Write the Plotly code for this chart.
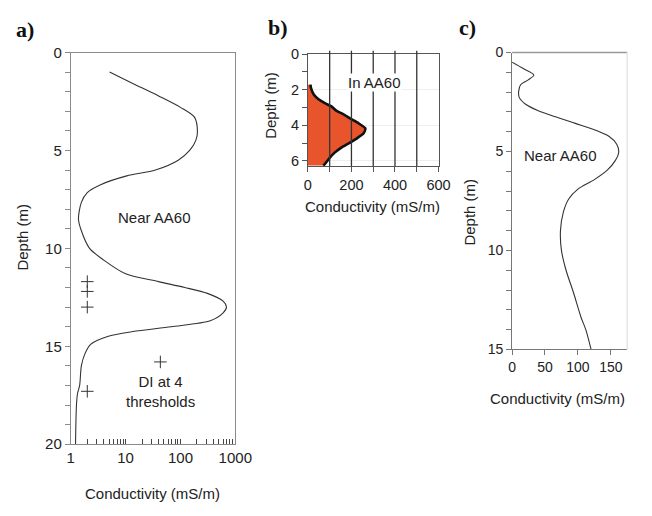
import plotly.graph_objects as go

# ---------------- data ----------------
# Panel a: conductivity profile near AA60 (log scale)
depth_a = [1.0, 1.58, 2.22, 2.8, 3.3, 4.05, 4.5, 5.0, 5.5, 6.0, 6.3, 6.75, 7.15, 7.65,
           8.5, 9.1, 10.0, 10.6, 11.3, 11.7, 12.0, 12.3, 12.7, 13.0, 13.3, 13.7, 14.0,
           14.25, 14.5, 14.9, 15.4, 16.0, 17.0, 17.4, 18.0, 20.0]
cond_a = [5.1, 13.5, 40, 100, 180, 204, 190, 147, 91, 35, 10.5, 3.5, 2.0, 1.56,
          1.38, 1.56, 2.2, 4.0, 10, 40, 120, 310, 600, 690, 600, 350, 68,
          13.5, 4.7, 2.3, 1.8, 1.56, 1.45, 1.33, 1.27, 1.22]
# DI at 4 thresholds (crosses)
di_depth = [11.7, 12.2, 13.0, 15.8, 17.3]
di_cond = [2.0, 2.0, 2.0, 43, 2.0]

# Panel b: conductivity in AA60
depth_b = [1.72, 1.9, 2.27, 2.54, 2.76, 2.94, 3.18, 3.36, 3.64, 3.9, 4.18, 4.45,
           4.72, 5.0, 5.27, 5.54, 5.82, 6.18, 6.27]
cond_b = [12, 14, 27, 49, 78, 108, 130, 160, 197, 234, 264, 256,
          227, 190, 152, 123, 101, 78, 71]

# Panel c: conductivity near AA60 (linear scale)
depth_c = [0.49, 0.81, 1.14, 1.38, 1.63, 1.95, 2.28, 2.6, 2.93, 3.25, 3.58, 3.9,
           4.23, 4.63, 5.04, 5.45, 5.93, 6.42, 6.9, 7.4, 8.05, 9.0, 10.0, 11.0,
           12.1, 13.4, 14.0, 15.0]
cond_c = [0, 17, 33, 24.5, 13, 10, 11, 20, 39, 66, 96, 125,
          147, 159, 162, 157, 145, 125, 100, 86, 78, 73.5, 75, 82,
          93, 105, 112, 120]

ticks_a_x = [1, 10, 100, 1000]
minor_a_x = [2, 3, 4, 5, 6, 7, 8, 9, 20, 30, 40, 50, 60, 70, 80, 90,
             200, 300, 400, 500, 600, 700, 800, 900]
ticks_a_y = [0, 5, 10, 15, 20]
ticks_b_x = [0, 200, 400, 600]
grid_b_x = [100, 200, 300, 400, 500]
ticks_b_y = [0, 2, 4, 6]
ticks_c_x = [0, 50, 100, 150]
ticks_c_y = [0, 5, 10, 15]

# ---------------- figure ----------------
W, H = 652, 516
FONT = "Liberation Sans, Arial, sans-serif"
TXT = "#222222"


def px_x(v):
    return v / W


def px_y(v):
    return 1 - v / H


fig = go.Figure()
fig.add_trace(go.Scatter(x=cond_a, y=depth_a, mode="lines", line=dict(color="#333333", width=1.1, shape="spline", smoothing=0.8),
                         xaxis="x", yaxis="y", showlegend=False))
fig.add_trace(go.Scatter(x=di_cond, y=di_depth, mode="markers",
                         marker=dict(symbol="cross-thin", size=9, line=dict(color="#333333", width=1)),
                         xaxis="x", yaxis="y", showlegend=False))
fig.add_trace(go.Scatter(x=cond_b, y=depth_b, mode="lines", fill="tozerox", fillcolor="#E8542C",
                         line=dict(color="#111111", width=2.6, shape="spline", smoothing=0.6),
                         xaxis="x2", yaxis="y2", showlegend=False))
fig.add_trace(go.Scatter(x=cond_c, y=depth_c, mode="lines", line=dict(color="#333333", width=1.1, shape="spline", smoothing=0.8),
                         xaxis="x3", yaxis="y3", showlegend=False))

axis_common = dict(showgrid=False, zeroline=False, ticks="outside", ticklen=5,
                   tickfont=dict(family=FONT, size=15, color=TXT), linewidth=1)

# panel a x ticks: labelled decades plus unlabelled in-between ticks
a_x_vals = ticks_a_x + minor_a_x
a_x_text = [str(v) for v in ticks_a_x] + ["" for _ in minor_a_x]

layout = dict(
    width=W, height=H, margin=dict(l=0, r=0, t=0, b=0),
    paper_bgcolor="white", plot_bgcolor="white",
    font=dict(family=FONT, size=15, color=TXT),
    xaxis=dict(axis_common, domain=[px_x(69), px_x(239)], anchor="y", type="log", range=[0, 3],
               tickmode="array", tickvals=a_x_vals, ticktext=a_x_text, ticks="inside", ticklen=5,
               tickwidth=1, linecolor="#8a8a8a", tickcolor="#444444", mirror=True),
    yaxis=dict(axis_common, domain=[px_y(450), px_y(45)], anchor="x", range=[20, 0], tickvals=ticks_a_y,
               linecolor="#8a8a8a", tickcolor="#8a8a8a", mirror=True,
               minor=dict(ticks="outside", ticklen=5, dtick=1, tickcolor="#8a8a8a", showgrid=False)),
    xaxis2=dict(axis_common, domain=[px_x(314), px_x(449)], anchor="y2", range=[0, 600], tickvals=ticks_b_x,
                linecolor="#555555", tickcolor="#555555", mirror=True,
                tickfont=dict(family=FONT, size=14.5, color=TXT),
                minor=dict(ticks="outside", ticklen=5, dtick=100, tickcolor="#555555", showgrid=False)),
    yaxis2=dict(axis_common, domain=[px_y(162.5), px_y(46.7)], anchor="x2", range=[6.3, 0], tickvals=ticks_b_y,
                linecolor="#555555", tickcolor="#555555", mirror=True, showgrid=True, gridcolor="#eeeeee",
                tickfont=dict(family=FONT, size=14.5, color=TXT),
                minor=dict(ticks="outside", ticklen=5, dtick=1, tickcolor="#555555", showgrid=False)),
    xaxis3=dict(axis_common, domain=[px_x(525), px_x(644)], anchor="y3", range=[0, 175], tickvals=ticks_c_x,
                linecolor="#777777", tickcolor="#777777", tickfont=dict(family=FONT, size=14, color=TXT)),
    yaxis3=dict(axis_common, domain=[px_y(352), px_y(45)], anchor="x3", range=[15, 0], tickvals=ticks_c_y,
                linecolor="#777777", tickcolor="#777777", tickfont=dict(family=FONT, size=14, color=TXT),
                minor=dict(ticks="outside", ticklen=5, dtick=1, tickcolor="#777777", showgrid=False)),
)
fig.update_layout(**layout)

# panel b vertical grid lines drawn above the filled area
for gx in grid_b_x:
    fig.add_shape(type="line", xref="x2", yref="y2 domain", x0=gx, x1=gx, y0=0, y1=1.03,
                  line=dict(color="#333333", width=1.3), layer="above")

# panel c borders (top gray, right very light)
fig.add_shape(type="line", xref="x3 domain", yref="y3 domain", x0=0, x1=1, y0=1, y1=1,
              line=dict(color="#999999", width=1.5), layer="above")
fig.add_shape(type="line", xref="x3 domain", yref="y3 domain", x0=1, x1=1, y0=0, y1=1,
              line=dict(color="#e6e6e6", width=1.5), layer="above")

ann = []
# panel labels
for lbl, x, y in [("a)", 10, 21), ("b)", 271, 19), ("c)", 468, 19)]:
    ann.append(dict(text="<b>%s</b>" % lbl, x=px_x(x), y=px_y(y), xref="paper", yref="paper",
                    xanchor="left", yanchor="middle", showarrow=False,
                    font=dict(family="Liberation Serif, Times New Roman, serif", size=22, color="#111111")))
# axis titles
for txt, x, y, rot in [("Depth (m)", 19, 236, -90), ("Conductivity (mS/m)", 153, 501, 0),
                       ("Depth (m)", 276, 100, -90), ("Conductivity (mS/m)", 381, 204, 0),
                       ("Depth (m)", 481, 210, -90), ("Conductivity (mS/m)", 572, 403, 0)]:
    ann.append(dict(text=txt, x=px_x(x), y=px_y(y), xref="paper", yref="paper", textangle=rot,
                    xanchor="center", yanchor="middle", showarrow=False,
                    font=dict(family=FONT, size=15, color=TXT)))
# in-plot labels
ann.append(dict(text="Near AA60", x=1.52, y=8.45, xref="x", yref="y", showarrow=False,
                font=dict(family=FONT, size=15, color=TXT)))
ann.append(dict(text="DI at 4<br>thresholds", x=1.63, y=17.3, xref="x", yref="y", showarrow=False,
                font=dict(family=FONT, size=15, color=TXT)))
ann.append(dict(text="In AA60", x=307, y=1.6, xref="x2", yref="y2", showarrow=False,
                bgcolor="white", borderpad=0, font=dict(family=FONT, size=15, color=TXT)))
ann.append(dict(text="Near AA60", x=74, y=5.2, xref="x3", yref="y3", showarrow=False,
                font=dict(family=FONT, size=15, color=TXT)))
fig.update_layout(annotations=ann)

fig.write_html("out.html")
